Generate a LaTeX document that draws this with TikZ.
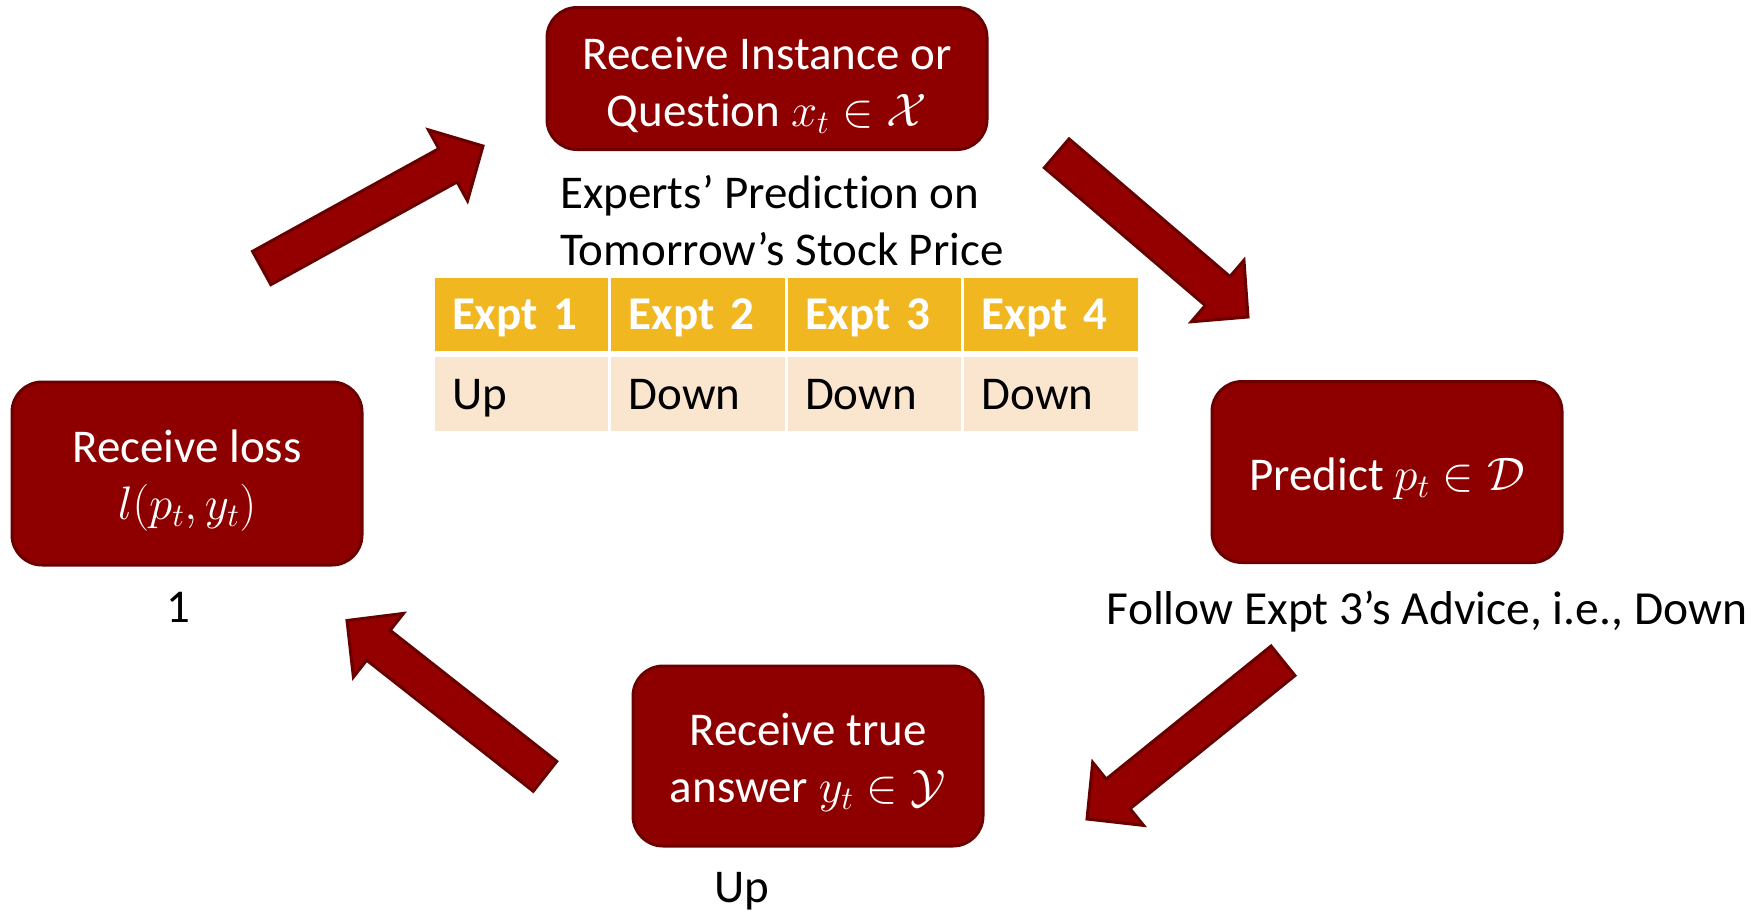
\RequirePackage{fix-cm}
\documentclass[tikz,border=0pt]{standalone}
\usepackage{fontspec}
\setmainfont{Carlito}[Ligatures={TeX,NoCommon}]
\usetikzlibrary{calc}

\definecolor{boxred}{RGB}{142,0,0}
\definecolor{boxedge}{RGB}{108,0,0}
\definecolor{arrowred}{RGB}{148,0,0}
\definecolor{arrowedge}{RGB}{104,0,0}
\definecolor{headgold}{RGB}{240,183,33}
\definecolor{bodycream}{RGB}{250,229,206}

\newcommand\bigfont{\fontsize{47}{57}\selectfont}
% taller first line keeps each text block a little below the box centre
\newcommand\topstrut{\rule{0pt}{46pt}}
\newcommand\arrshaft{19pt}
\newcommand\arrwing{40.5pt}
\newcommand\arrhead{40pt}

% block arrow: #1 name prefix, #2 tail coordinate, #3 tip coordinate
\newcommand\blockarrow[3]{%
  \coordinate (#1-h) at ($(#3)!\arrhead!(#2)$);
  \draw[bigarrow]
    ($(#2)!\arrshaft!90:(#3)$) -- ($(#1-h)!\arrshaft!90:(#3)$) --
    ($(#1-h)!\arrwing!90:(#3)$) -- (#3) --
    ($(#1-h)!\arrwing!-90:(#3)$) -- ($(#1-h)!\arrshaft!-90:(#3)$) --
    ($(#2)!\arrshaft!-90:(#3)$) -- cycle;}

\tikzset{
  stepbox/.style={rounded corners=30pt, fill=boxred, draw=boxedge,
    line width=3pt, text=white, align=center, font=\bigfont, inner sep=0pt},
  note/.style={font=\bigfont, text=black, inner sep=0pt},
  bigarrow/.style={fill=arrowred, draw=arrowedge, line width=3pt, line join=miter},
  cell/.style={minimum width=173.5pt, minimum height=73pt, inner xsep=17.5pt,
    inner ysep=0pt, text width=138.5pt, align=left, text height=30pt,
    text depth=0pt, font=\bigfont},
  headcell/.style={cell, fill=headgold, text=white, font=\bigfont\bfseries},
  bodycell/.style={cell, fill=bodycream, text=black, minimum height=74pt},
}

\begin{document}
\begin{tikzpicture}[x=1pt, y=-1pt]
\useasboundingbox (0,0) rectangle (1760,913);

% the four stages of the online learning loop
\node[stepbox, minimum width=440pt, minimum height=142pt] (query) at (767,78.5)
  {\topstrut Receive Instance or\\Question $x_t\in\mathcal{X}$};
\node[stepbox, minimum width=350pt, minimum height=181pt] (predict) at (1387,472)
  {\topstrut Predict $p_t\in\mathcal{D}$};
\node[stepbox, minimum width=350pt, minimum height=180pt] (answer) at (808,756)
  {\topstrut Receive true\\answer $y_t\in\mathcal{Y}$};
\node[stepbox, minimum width=350pt, minimum height=183pt] (loss) at (187,473.5)
  {\topstrut Receive loss\\$l(p_t,y_t)$};

% example annotations
\node[note, align=left, anchor=north west] (title) at (560,175)
  {Experts’ Prediction on\\Tomorrow’s Stock Price};
\node[note, anchor=base, font=\fontsize{47.5}{57}\selectfont] (advice) at (1427,624)
  {Follow Expt 3’s Advice, i.e., Down};
\node[note, anchor=base] (truth) at (742,902) {Up};
\node[note, anchor=base] (lossval) at (178,622) {1};

% experts' table
\node[headcell] (h1) at (521.25,314.5) {Expt 1};
\node[headcell] (h2) at (697.75,314.5) {Expt 2};
\node[headcell] (h3) at (874.25,314.5) {Expt 3};
\node[headcell] (h4) at (1050.75,314.5) {Expt 4};
\node[bodycell] (b1) at (521.25,394) {Up};
\node[bodycell] (b2) at (697.75,394) {Down};
\node[bodycell] (b3) at (874.25,394) {Down};
\node[bodycell] (b4) at (1050.75,394) {Down};

% block arrows around the loop
\coordinate (a1t) at (261.7,268);   \coordinate (a1p) at (483,146);
\coordinate (a2t) at (1056.7,153.3); \coordinate (a2p) at (1248,317);
\coordinate (a3t) at (1283,660.8);  \coordinate (a3p) at (1087,819);
\coordinate (a4t) at (545,776.3);   \coordinate (a4p) at (347,620.5);
\blockarrow{a1}{a1t}{a1p}
\blockarrow{a2}{a2t}{a2p}
\blockarrow{a3}{a3t}{a3p}
\blockarrow{a4}{a4t}{a4p}
\end{tikzpicture}
\end{document}
